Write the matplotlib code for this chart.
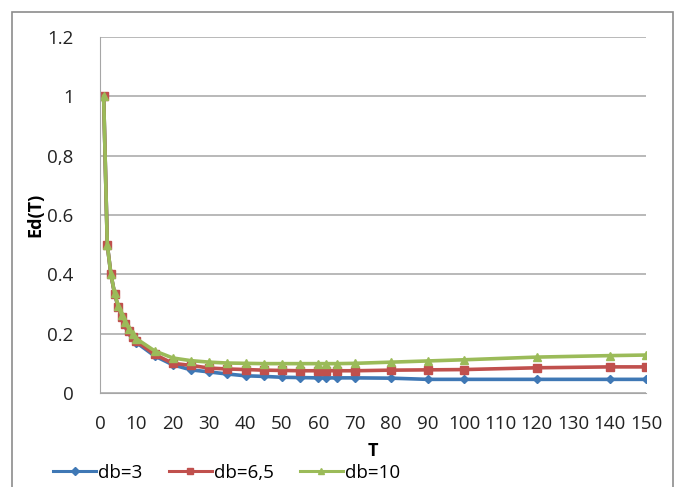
import matplotlib
matplotlib.use("Agg")
import matplotlib.pyplot as plt
from matplotlib.patches import Rectangle

plt.rcParams["font.family"] = ["Open Sans", "DejaVu Sans"]

# data
T = [1, 2, 3, 4, 5, 6, 7, 8, 9, 10, 15, 20, 25, 30, 35, 40, 45, 50, 55,
     60, 62, 65, 70, 80, 90, 100, 120, 140, 150]
ed_db3 = [1.0, 0.5, 0.4, 0.335, 0.29, 0.255, 0.23, 0.205, 0.185, 0.17,
          0.125, 0.095, 0.078, 0.071, 0.064, 0.058, 0.056, 0.053, 0.052,
          0.051, 0.051, 0.051, 0.051, 0.05, 0.046, 0.046, 0.046, 0.046, 0.046]
ed_db65 = [1.0, 0.5, 0.4, 0.335, 0.29, 0.257, 0.232, 0.208, 0.19, 0.175,
           0.13, 0.1, 0.093, 0.084, 0.081, 0.079, 0.077, 0.076, 0.075,
           0.075, 0.075, 0.075, 0.075, 0.077, 0.078, 0.079, 0.085, 0.088, 0.088]
ed_db10 = [1.0, 0.5, 0.4, 0.337, 0.293, 0.262, 0.238, 0.215, 0.198, 0.183,
           0.142, 0.118, 0.109, 0.104, 0.101, 0.1, 0.099, 0.099, 0.099,
           0.099, 0.099, 0.099, 0.1, 0.104, 0.108, 0.112, 0.121, 0.126, 0.128]

y_ticks = [0, 0.2, 0.4, 0.6, 0.8, 1.0, 1.2]
y_tick_labels = ["0", "0.2", "0.4", "0.6", "0,8", "1", "1.2"]
x_ticks = list(range(0, 151, 10))

fig = plt.figure(figsize=(6.8, 4.87), dpi=100)
fig.patches.append(Rectangle((12 / 680, -0.05), 661 / 680, 1.05 - 12 / 487,
                             transform=fig.transFigure, fill=False,
                             edgecolor="#8c8c8c", linewidth=1.2))
ax = fig.add_axes([100 / 680, 1 - 393 / 487, 546 / 680, 356 / 487])

ax.plot(T, ed_db3, color="#3f78b5", linewidth=2.6, marker="D",
        markersize=4.5, label="db=3")
ax.plot(T, ed_db65, color="#c0504d", linewidth=2.6, marker="s",
        markersize=6, label="db=6,5")
ax.plot(T, ed_db10, color="#9bbb59", linewidth=2.6, marker="^",
        markersize=6, label="db=10")

ax.set_xlim(0, 150)
ax.set_ylim(0, 1.2)
ax.set_xticks(x_ticks)
ax.set_yticks(y_ticks)
ax.set_yticklabels(y_tick_labels)
ax.tick_params(axis="both", length=0, labelsize=13.5, colors="#222222")
ax.tick_params(axis="x", pad=16)
ax.tick_params(axis="y", pad=19)
ax.grid(axis="y", color="#a6a6a6", linewidth=1.1)
ax.set_axisbelow(True)
for side in ["top", "right"]:
    ax.spines[side].set_visible(False)
ax.spines["left"].set_color("#a6a6a6")
ax.spines["bottom"].set_color("#a6a6a6")

ax.set_xlabel("T", fontsize=13, fontweight="bold", labelpad=6)
ax.set_ylabel("Ed(T)", fontsize=13, fontweight="bold", labelpad=2)

leg = fig.legend(loc="lower left", bbox_to_anchor=(42 / 680, -0.012), ncol=3,
                 frameon=False, fontsize=13.5, handlelength=2.3,
                 handletextpad=0.1, columnspacing=1.4, borderaxespad=0.2)
for line in leg.get_lines():
    line.set_linewidth(2.2)
    line.set_markersize(4.5)

fig.savefig("out.png", dpi=100)
